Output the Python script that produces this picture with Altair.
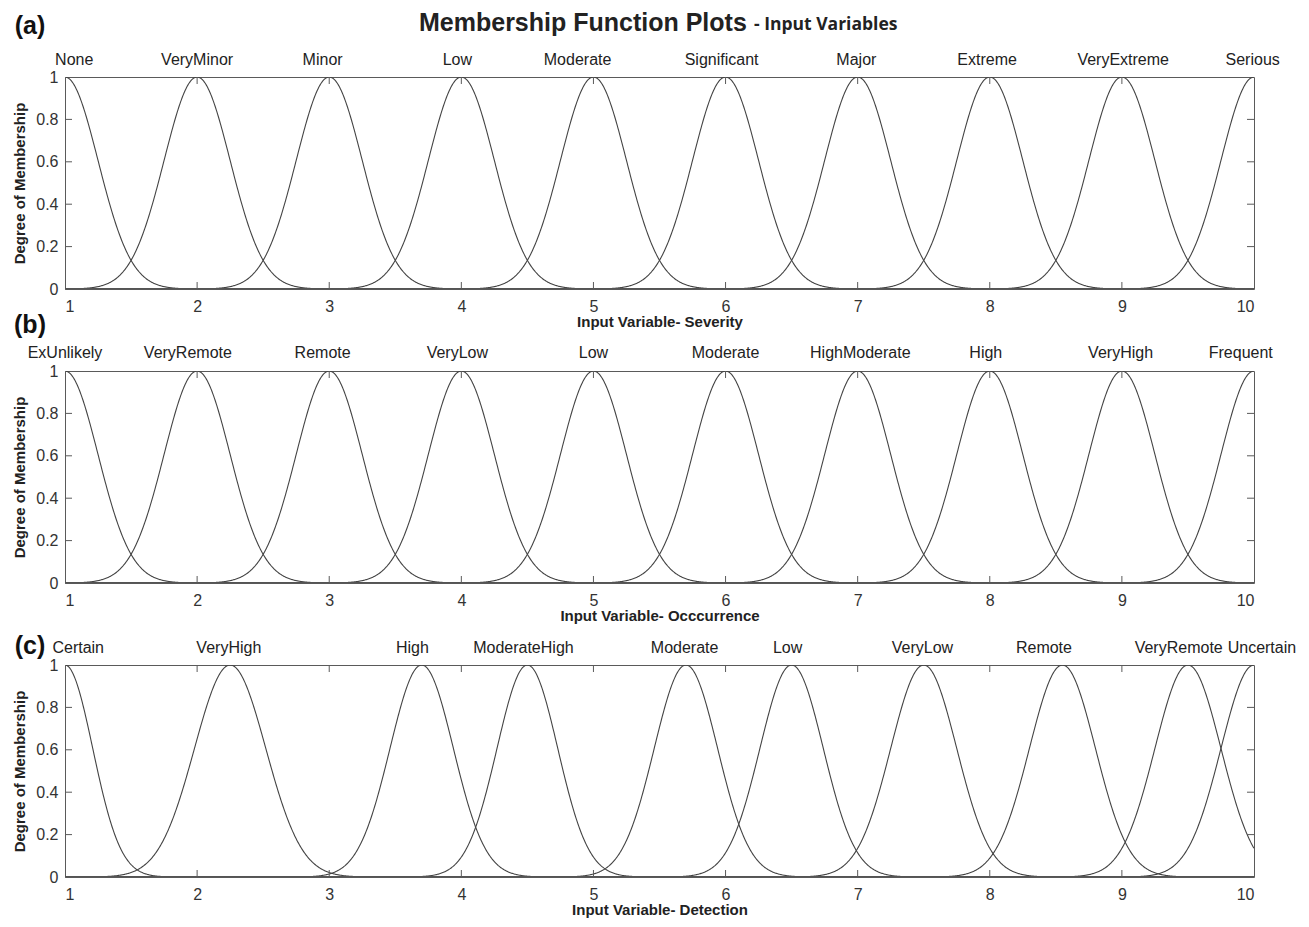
import altair as alt
import numpy as np
import pandas as pd

# ---------------- data ----------------
X_TICKS = [1, 2, 3, 4, 5, 6, 7, 8, 9, 10]
Y_TICKS = [0, 0.2, 0.4, 0.6, 0.8, 1]

sev_names = ["None", "VeryMinor", "Minor", "Low", "Moderate", "Significant",
             "Major", "Extreme", "VeryExtreme", "Serious"]
sev_centers = [1, 2, 3, 4, 5, 6, 7, 8, 9, 10]
sev_sigmas = [0.25, 0.25, 0.25, 0.25, 0.25, 0.25, 0.25, 0.25, 0.25, 0.25]
sev_label_x = [1.07, 2.0, 2.95, 3.97, 4.88, 5.97, 6.99, 7.98, 9.01, 9.99]

occ_names = ["ExUnlikely", "VeryRemote", "Remote", "VeryLow", "Low", "Moderate",
             "HighModerate", "High", "VeryHigh", "Frequent"]
occ_centers = [1, 2, 3, 4, 5, 6, 7, 8, 9, 10]
occ_sigmas = [0.25, 0.25, 0.25, 0.25, 0.25, 0.25, 0.25, 0.25, 0.25, 0.25]
occ_label_x = [1.0, 1.93, 2.95, 3.97, 5.0, 6.0, 7.02, 7.97, 8.99, 9.9]

det_names = ["Certain", "VeryHigh", "High", "ModerateHigh", "Moderate", "Low",
             "VeryLow", "Remote", "VeryRemote", "Uncertain"]
det_centers = [1, 2.25, 3.7, 4.5, 5.7, 6.5, 7.5, 8.55, 9.5, 10]
det_sigmas = [0.21, 0.27, 0.24, 0.23, 0.24, 0.24, 0.25, 0.25, 0.25, 0.25]
det_label_x = [1.1, 2.24, 3.63, 4.47, 5.69, 6.47, 7.49, 8.41, 9.43, 10.06]

titles_x = ["Input Variable- Severity", "Input Variable- Occcurrence", "Input Variable- Detection"]
letters = ["(a)", "(b)", "(c)"]

# ---------------- styling ----------------
W, H = 1189, 212
FONT = "Liberation Sans"
CURVE = "#444444"
FRAME = "#5a5a5a"
TICK_PX = 7

xscale = alt.Scale(domain=[1, 10], nice=False, zero=False)
yscale = alt.Scale(domain=[0, 1], nice=False, zero=False)


def gaussmf_table(names, centers, sigmas):
    xs = np.round(np.linspace(1, 10, 1801), 5)
    parts = []
    for n, c, s in zip(names, centers, sigmas):
        parts.append(pd.DataFrame({"mf": n, "x": xs,
                                   "y": np.exp(-((xs - c) ** 2) / (2 * s * s))}))
    return pd.concat(parts, ignore_index=True)


def panel(names, centers, sigmas, label_x, xtitle, letter, letter_y, label_dy, first=False):
    df = gaussmf_table(names, centers, sigmas)
    lines = alt.Chart(df).mark_line(color=CURVE, strokeWidth=1.1, clip=True).encode(
        x=alt.X("x:Q", scale=xscale,
                axis=alt.Axis(values=X_TICKS, title=xtitle, format="d",
                              labelPadding=9, titlePadding=0, tickSize=0,
                              domain=False, grid=False)),
        y=alt.Y("y:Q", scale=yscale,
                axis=alt.Axis(values=Y_TICKS, title="Degree of Membership", format="~g",
                              labelPadding=7, titlePadding=8, tickSize=0,
                              domain=False, grid=False)),
        detail="mf:N",
    )

    # inward MATLAB-style ticks on all four sides
    dy = TICK_PX / H
    dx = TICK_PX / W * 9
    xt = pd.DataFrame({"x": X_TICKS[1:-1]})
    yt = pd.DataFrame({"y": Y_TICKS[1:-1]})
    bottom = alt.Chart(xt).transform_calculate(y0="0", y1=str(dy)).mark_rule(
        color=FRAME, strokeWidth=1).encode(x="x:Q", y="y0:Q", y2="y1:Q")
    top = alt.Chart(xt).transform_calculate(y0="1", y1=str(1 - dy)).mark_rule(
        color=FRAME, strokeWidth=1).encode(x="x:Q", y="y0:Q", y2="y1:Q")
    left = alt.Chart(yt).transform_calculate(x0="1", x1=str(1 + dx)).mark_rule(
        color=FRAME, strokeWidth=1).encode(y="y:Q", x="x0:Q", x2="x1:Q")
    right = alt.Chart(yt).transform_calculate(x0="10", x1=str(10 - dx)).mark_rule(
        color=FRAME, strokeWidth=1).encode(y="y:Q", x="x0:Q", x2="x1:Q")
    base_line = alt.Chart(pd.DataFrame({"a": [1], "b": [10]})).mark_rule(
        color=FRAME, strokeWidth=1.6).encode(x="a:Q", x2="b:Q", y=alt.datum(0))

    lab_df = pd.DataFrame({"mf": names, "lx": label_x})
    labels = alt.Chart(lab_df).mark_text(
        font=FONT, fontSize=16, color="#222222", dy=label_dy, baseline="middle"
    ).encode(x="lx:Q", y=alt.datum(1), text="mf:N")

    let = alt.Chart(pd.DataFrame({"t": [letter]})).mark_text(
        font=FONT, fontSize=25, fontWeight="bold", color="#111111", align="center",
        baseline="middle").encode(x=alt.value(-35), y=alt.value(letter_y), text="t:N")

    layers = [lines, base_line, bottom, top, left, right, labels, let]
    if first:
        t1 = alt.Chart(pd.DataFrame({"t": ["Membership Function Plots"]})).mark_text(
            font=FONT, fontSize=25, fontWeight="bold", color="#222222", align="left",
            baseline="middle").encode(x=alt.value(354), y=alt.value(-54), text="t:N")
        t2 = alt.Chart(pd.DataFrame({"t": ["- Input Variables"]})).mark_text(
            font="Open Sans", fontSize=17.5, fontWeight="bold", color="#222222", align="left",
            baseline="middle").encode(x=alt.value(689), y=alt.value(-52), text="t:N")
        layers += [t1, t2]
    return alt.layer(*layers).properties(width=W, height=H)


pa = panel(sev_names, sev_centers, sev_sigmas, sev_label_x, titles_x[0], letters[0], -51, -17, first=True)
pb = panel(occ_names, occ_centers, occ_sigmas, occ_label_x, titles_x[1], letters[1], -46, -18)
pc = panel(det_names, det_centers, det_sigmas, det_label_x, titles_x[2], letters[2], -19, -17)

chart = alt.vconcat(pa, pb, pc, spacing=82, bounds="flush").properties(
    padding={"left": 4, "top": 2, "right": 0, "bottom": 0},
    background="white",
).configure_view(stroke=FRAME, strokeWidth=1).configure_axis(
    labelFont=FONT, labelFontSize=16, labelColor="#333333",
    titleFont=FONT, titleFontSize=15, titleFontWeight="bold", titleColor="#222222"
)

chart.save("out.html", embed_options={"renderer": "svg", "actions": False})
